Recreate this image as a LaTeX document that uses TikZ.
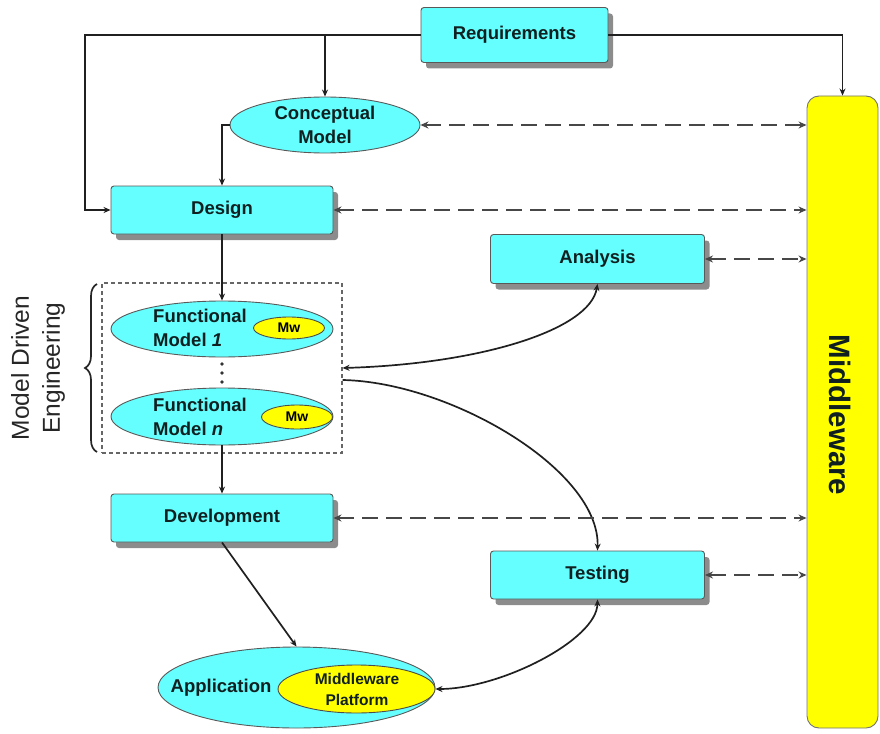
\documentclass[tikz,border=0pt]{standalone}
\usepackage{fontspec}
\setmainfont{Liberation Sans}
\usetikzlibrary{shapes.geometric,shadows,arrows.meta,decorations.pathreplacing}
\definecolor{boxcyan}{HTML}{66FFFF}
\definecolor{mwyellow}{HTML}{FFFF00}
\definecolor{lineclr}{HTML}{202020}
\definecolor{txtclr}{HTML}{102020}
\begin{document}
\begin{tikzpicture}[x=1pt,y=-1pt,
  stepbox/.style={draw=black!65, line width=0.9pt, fill=boxcyan, rounded corners=3pt,
    inner sep=0pt, font=\fontsize{18.5}{22}\selectfont\bfseries, text=txtclr,
    drop shadow={shadow xshift=5pt, shadow yshift=-6pt, fill=black!50, opacity=0.9}},
  ellnode/.style={ellipse, draw=black!65, line width=0.9pt, fill=boxcyan, inner sep=0pt},
  mwell/.style={ellipse, draw=black!70, line width=0.9pt, fill=mwyellow, inner sep=0pt},
  lbl/.style={font=\fontsize{18.5}{24.5}\selectfont\bfseries, text=txtclr, inner sep=0pt},
  flow/.style={draw=lineclr, line width=1.7pt, -{Stealth[length=7pt,width=6pt]}},
  twoway/.style={draw=lineclr, line width=1.7pt, {Stealth[length=7pt,width=6pt]}-{Stealth[length=7pt,width=6pt]}},
  dashlink/.style={draw=black!72, line width=2.5pt, dash pattern=on 16pt off 8pt,
    {Stealth[length=8pt,width=7pt]}-{Stealth[length=8pt,width=7pt]}}
]
\useasboundingbox (0,0) rectangle (880,733);

% middleware column
\node[draw=black!55, line width=0.9pt, fill=mwyellow, rounded corners=12pt,
  minimum width=71pt, minimum height=632pt, inner sep=0pt] (mw) at (842.5,412) {};
\node[rotate=-90, font=\fontsize{29.5}{30}\selectfont\bfseries, text=txtclr] (mwt) at (840,415) {Middleware};

% process boxes
\node[stepbox, minimum width=187pt, minimum height=55pt] (rq) at (514.5,35) {Requirements};
\node[stepbox, minimum width=222pt, minimum height=48pt] (de) at (222,210) {Design};
\node[stepbox, minimum width=214pt, minimum height=49pt] (an) at (597.5,259) {Analysis};
\node[stepbox, minimum width=222pt, minimum height=48pt] (dv) at (222,518) {Development};
\node[stepbox, minimum width=214pt, minimum height=48pt] (te) at (597.5,575) {Testing};

% conceptual model
\node[ellnode, minimum width=190pt, minimum height=56pt] (cm) at (325,125) {};
\node[lbl, align=center] (cmt) at (325,125) {Conceptual\\Model};

% model driven engineering group
\node[draw=black!60, line width=1.1pt, dash pattern=on 4pt off 3pt,
  minimum width=240pt, minimum height=170pt, inner sep=0pt] (mde) at (222,368) {};
\node[ellnode, minimum width=222pt, minimum height=56pt] (fm1) at (222,329) {};
\node[lbl, align=left, anchor=west] (fm1t) at (153,328) {Functional\\Model \textit{1}};
\node[mwell, minimum width=71pt, minimum height=22pt, font=\fontsize{14}{15}\selectfont\bfseries] (mw1) at (289,328) {Mw};
\foreach \yy in {364,373,382} \fill[black!80] (222,\yy) circle (1.8pt);
\node[ellnode, minimum width=222pt, minimum height=57pt] (fmn) at (222,416.5) {};
\node[lbl, align=left, anchor=west] (fmnt) at (153,417) {Functional\\Model \textit{n}};
\node[mwell, minimum width=71pt, minimum height=24pt, font=\fontsize{14}{15}\selectfont\bfseries] (mwn) at (297,417) {Mw};

\draw[decorate, decoration={brace, amplitude=12pt}, line width=1.7pt, draw=black!85]
  (97,452) -- (97,284);
\node[rotate=90, font=\fontsize{24.5}{31}\selectfont, text=black!85, align=center] (mdet) at (38,368)
  {Model Driven\\Engineering};

% application
\node[ellnode, minimum width=277pt, minimum height=81pt] (ap) at (296.5,687.5) {};
\node[lbl] (apt) at (221,688) {Application};
\node[mwell, minimum width=157pt, minimum height=48pt] (mp) at (356.5,689) {};
\node[lbl, align=center, font=\fontsize{15.5}{21}\selectfont\bfseries] (mpt) at (357,689) {Middleware\\Platform};

% requirement flows
\coordinate (lc) at (85,35);
\draw[flow] (rq.west) -- (lc) |- (de.west);
\draw[flow] (cm.north |- rq.west) -- (cm.north);
\draw[flow] (rq.east) -| (mw.north);
\draw[flow] (cm.west) -| (de.north);

% main flow
\draw[flow] (de.south) -- (fm1.north);
\draw[flow] (fmn.south) -- (dv.north);
\draw[flow] (dv.south) -- (ap.north);

% curved links
\draw[twoway] (mde.east) .. controls (480,364) and (590,330) .. (an.south);
\draw[flow] ([yshift=-12pt]mde.east) .. controls (450,382) and (600,470) .. (te.north);
\draw[twoway] (te.south) .. controls (597,640) and (500,689) .. (mp.east);

% middleware links
\draw[dashlink] (cm.east) -- (cm.east -| mw.west);
\draw[dashlink] (de.east) -- (de.east -| mw.west);
\draw[dashlink] (an.east) -- (an.east -| mw.west);
\draw[dashlink] (dv.east) -- (dv.east -| mw.west);
\draw[dashlink] (te.east) -- (te.east -| mw.west);
\end{tikzpicture}
\end{document}
